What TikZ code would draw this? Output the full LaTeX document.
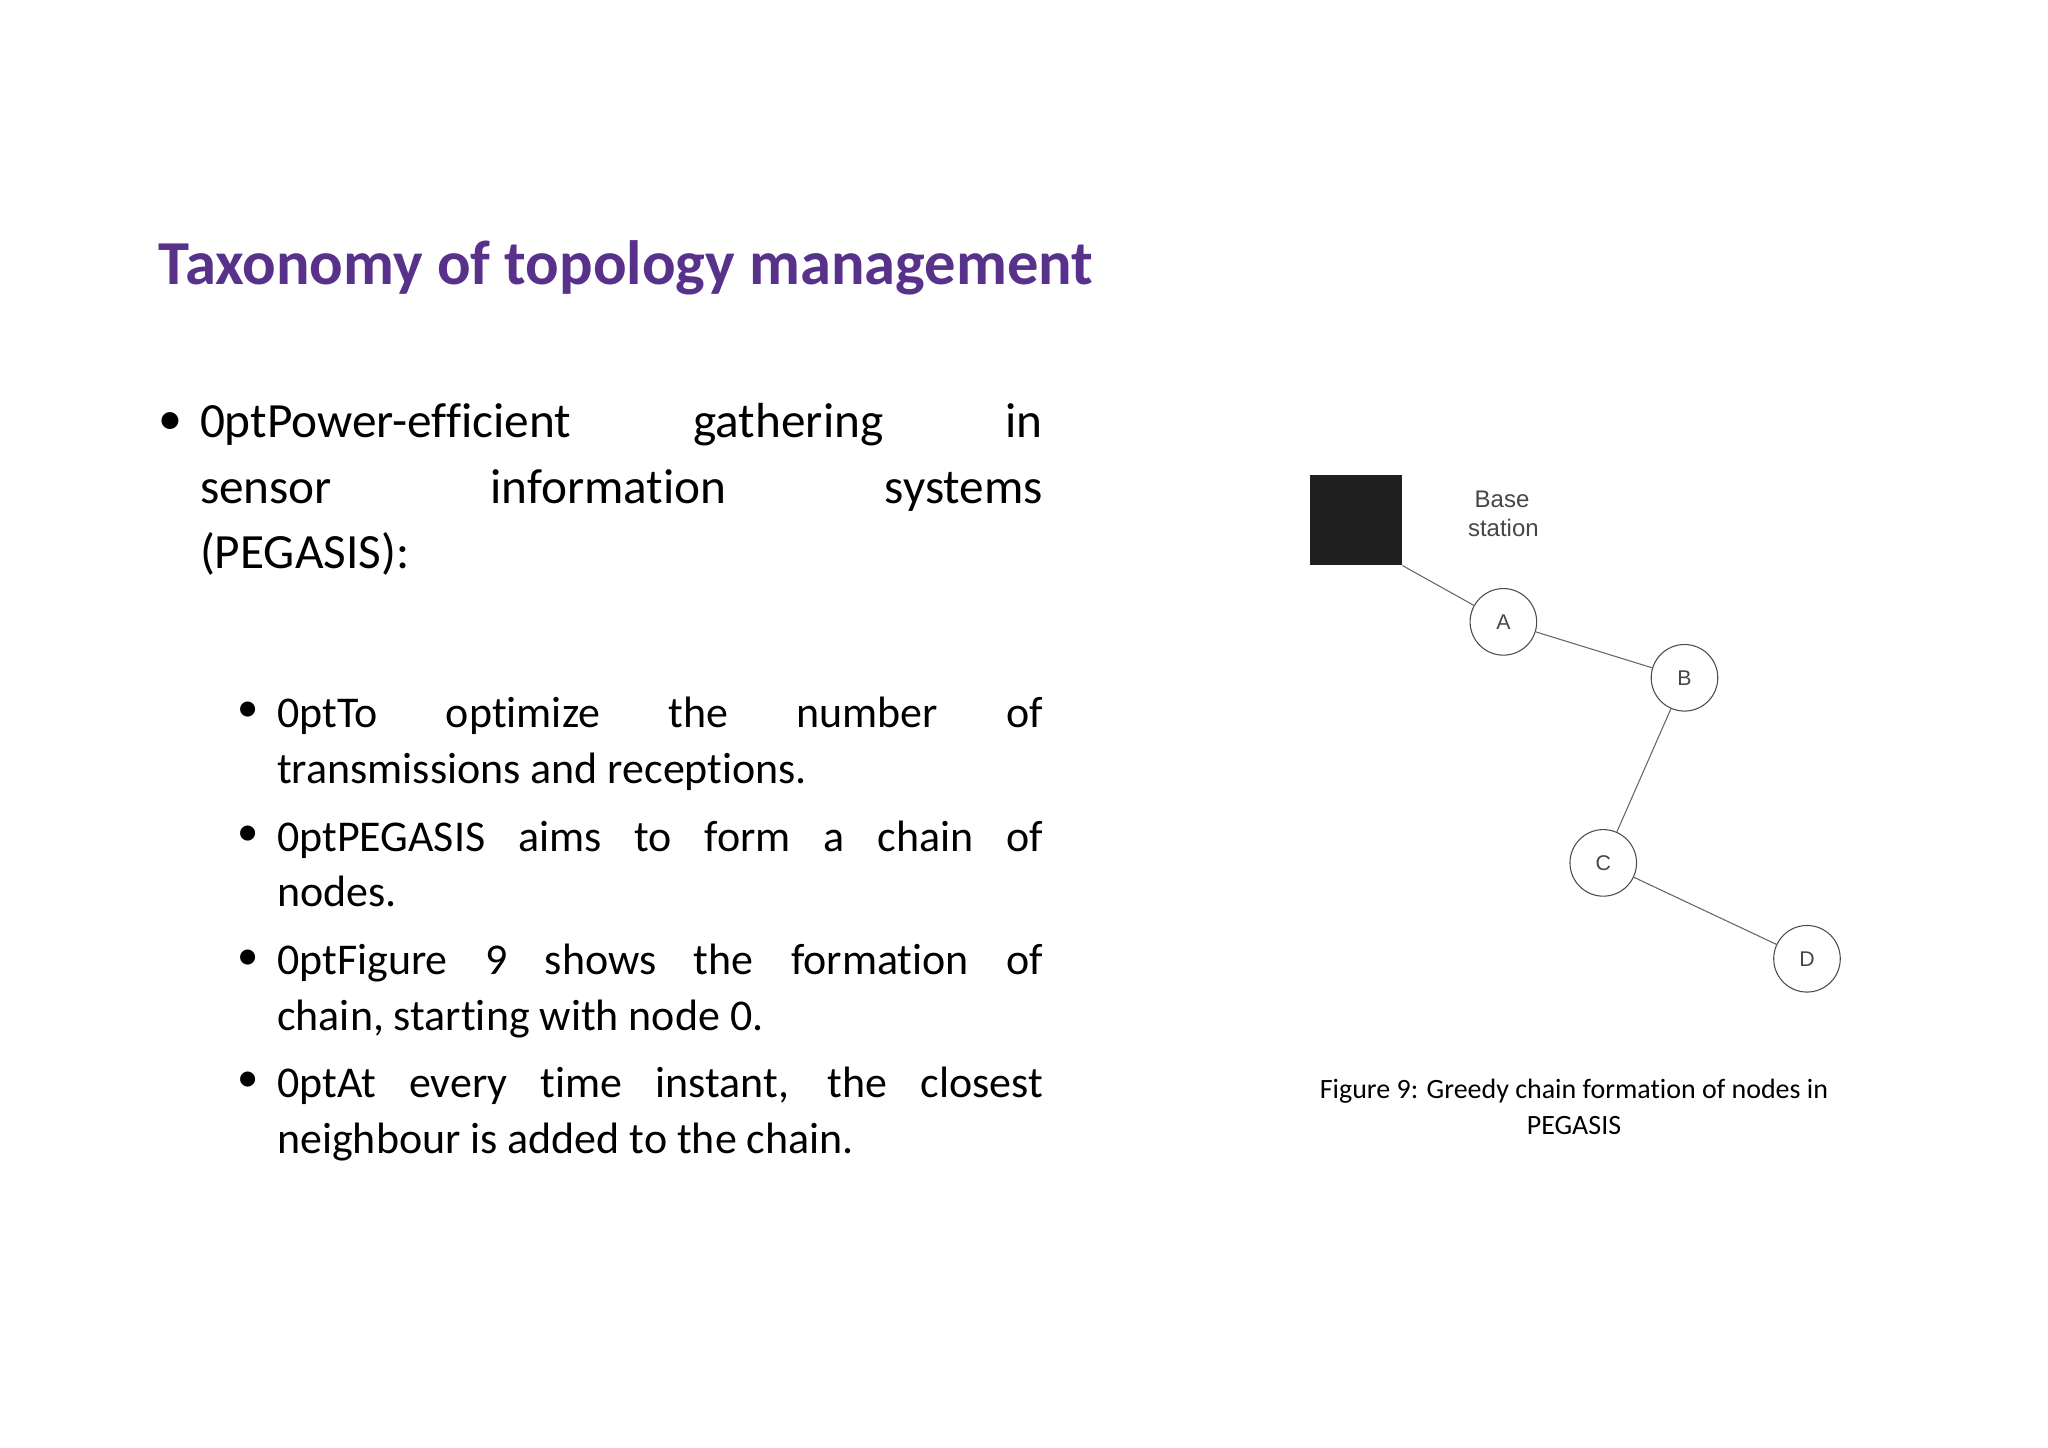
\documentclass[tikz,border=0pt]{standalone}
\usepackage{fontspec}
\setmainfont{Carlito}[RawFeature=-liga]
\newfontfamily\arialf{Liberation Sans}
\definecolor{titlec}{RGB}{88,50,138}
\definecolor{labc}{RGB}{70,70,70}
\begin{document}
\begin{tikzpicture}[x=1pt,y=-1pt,
  mainit/.style={anchor=north west,inner sep=0pt,text width=633pt,align=justify,font=\fontsize{37}{49}\selectfont\hyphenpenalty=10000 },
  subit/.style={anchor=north west,inner sep=0pt,text width=575pt,align=justify,font=\fontsize{33}{42}\selectfont\hyphenpenalty=10000 },
  bul/.style={anchor=base,inner sep=0pt},
  cnode/.style={circle,draw=black!70,line width=0.8pt,minimum size=50pt,inner sep=0pt,font=\arialf\fontsize{16}{16}\selectfont,text=labc},
  link/.style={draw=black!60,line width=0.8pt}]
\useasboundingbox (0,0) rectangle (1538,1087);
\node[anchor=base west,inner sep=0pt,text=titlec,font=\fontsize{47}{55}\selectfont\bfseries] (title) at (119,214) {Taxonomy of topology management};
\node[bul,font=\fontsize{36}{49}\selectfont] (b0) at (128,326) {•};
\node[mainit] (m) at (150,303) {Power-efficient gathering in\linebreak sensor information systems\linebreak (PEGASIS):};
\node[bul,font=\fontsize{32}{42}\selectfont] (b1) at (186,542) {•};
\node[subit] (s1) at (208,523) {To optimize the number of\linebreak transmissions and receptions.};
\node[bul,font=\fontsize{32}{42}\selectfont] (b2) at (186,635) {•};
\node[subit] (s2) at (208,616) {PEGASIS aims to form a chain of\linebreak nodes.};
\node[bul,font=\fontsize{32}{42}\selectfont] (b3) at (186,728) {•};
\node[subit] (s3) at (208,709) {Figure 9 shows the formation of\linebreak chain, starting with node 0.};
\node[bul,font=\fontsize{32}{42}\selectfont] (b4) at (186,820) {•};
\node[subit] (s4) at (208,801) {At every time instant, the closest\linebreak neighbour is added to the chain.};
% diagram
\node[fill=black!88,minimum width=69pt,minimum height=68pt,inner sep=0pt] (bs) at (1018.5,390.5) {};
\node[align=left,text=labc,font=\arialf\fontsize{18}{22}\selectfont,inner sep=0pt] (bsl) at (1129,386) {\ Base\\station};
\node[cnode] (A) at (1129,467) {A};
\node[cnode] (B) at (1265,509) {B};
\node[cnode] (C) at (1204,648) {C};
\node[cnode] (D) at (1357,720) {D};
\draw[link] (bs.south east) -- (A);
\draw[link] (A) -- (B);
\draw[link] (B) -- (C);
\draw[link] (C) -- (D);
\node[align=center,inner sep=0pt,font=\fontsize{21}{27}\selectfont] (cap) at (1182,831) {Figure 9: Greedy chain formation of nodes in\\PEGASIS};
\end{tikzpicture}
\end{document}
